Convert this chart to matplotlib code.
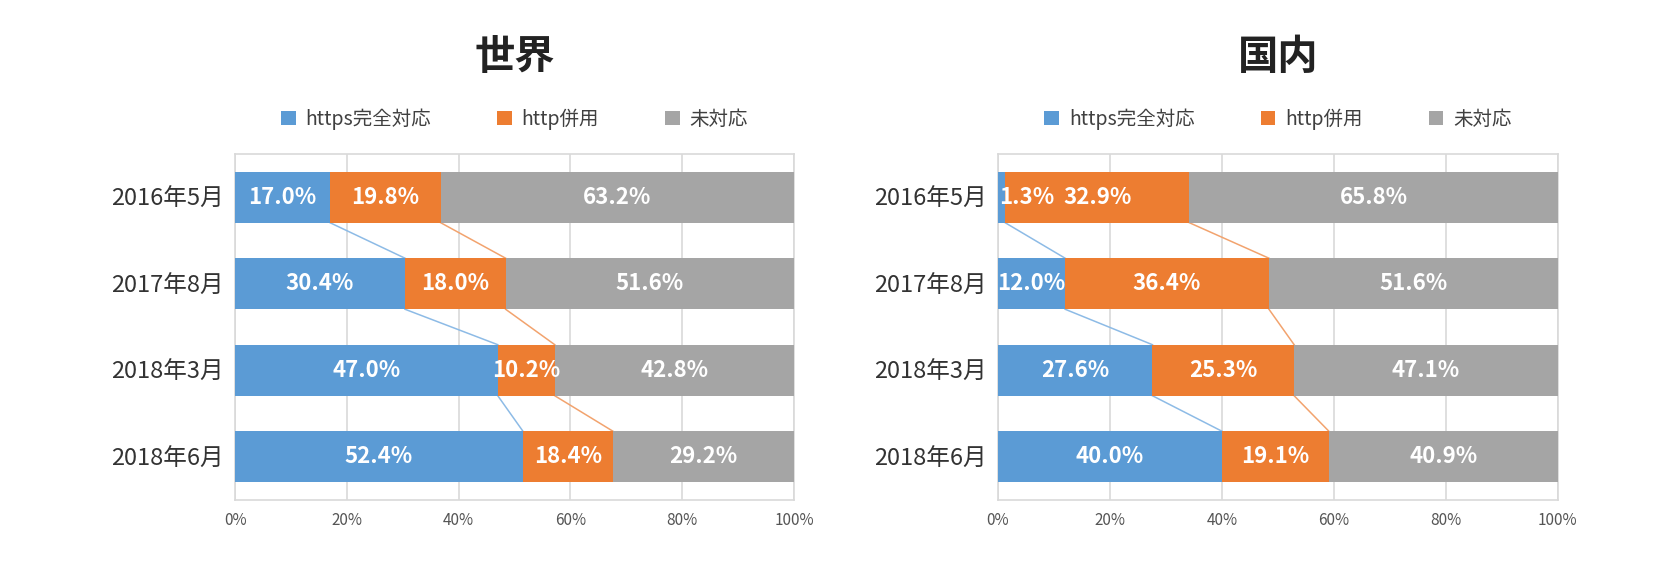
import matplotlib
matplotlib.use("Agg")
import matplotlib.pyplot as plt
from matplotlib.patches import Patch

plt.rcParams['font.family'] = ['Noto Sans CJK JP', 'DejaVu Sans']

# data
periods = ['2016年5月', '2017年8月', '2018年3月', '2018年6月']
series_names = ['https完全対応', 'http併用', '未対応']
# bar lengths as drawn in the source chart (last world row is drawn shorter than its label)
world_full = [17.0, 30.4, 47.0, 51.5]
world_mixed = [19.8, 18.0, 10.2, 16.1]
world_none = [63.2, 51.6, 42.8, 32.4]
# printed labels
world_full_lbl = [17.0, 30.4, 47.0, 52.4]
world_mixed_lbl = [19.8, 18.0, 10.2, 18.4]
world_none_lbl = [63.2, 51.6, 42.8, 29.2]
japan_full = [1.3, 12.0, 27.6, 40.0]
japan_mixed = [32.9, 36.4, 25.3, 19.1]
japan_none = [65.8, 51.6, 47.1, 40.9]
xticks = [0, 20, 40, 60, 80, 100]

colors = ['#5B9BD5', '#ED7D31', '#A5A5A5']
line_colors = ['#8DBBE6', '#F2A36E']
bar_h = 0.59

fig = plt.figure(figsize=(16.66, 5.64), dpi=100)
ax1 = fig.add_axes([0.1411, 0.1135, 0.3355, 0.6135])
ax2 = fig.add_axes([0.599, 0.1135, 0.3361, 0.6135])


def draw(ax, title, series, labels):
    y = list(range(len(periods)))
    left = [0] * len(periods)
    cums = []
    for vals, lbls, c in zip(series, labels, colors):
        ax.barh(y, vals, left=left, height=bar_h, color=c, zorder=3)
        for i, v in enumerate(vals):
            txt = '%.1f%%' % lbls[i]
            if v < 3:
                ax.text(left[i] + 0.2, i, txt, ha='left', va='center',
                        color='white', fontsize=16, fontweight='bold', zorder=5)
            else:
                ax.text(left[i] + v / 2, i, txt, ha='center', va='center',
                        color='white', fontsize=16, fontweight='bold', zorder=5)
        left = [l + v for l, v in zip(left, vals)]
        cums.append(list(left))

    # connector lines between bars
    for k in range(2):
        for i in range(len(periods) - 1):
            ax.plot([cums[k][i], cums[k][i + 1]], [i + bar_h / 2, i + 1 - bar_h / 2],
                    color=line_colors[k], lw=1.1, zorder=2)

    ax.set_xlim(0, 100)
    ax.set_ylim(len(periods) - 0.5, -0.5)
    ax.set_yticks(y)
    ax.set_yticklabels(periods, fontsize=17, color='#333333')
    ax.set_xticks(xticks)
    ax.set_xticklabels(['%d%%' % t for t in xticks], fontsize=11, color='#555555')
    ax.tick_params(length=0)
    ax.tick_params(axis='y', pad=8)
    ax.tick_params(axis='x', pad=9)
    ax.grid(axis='x', color='#D9D9D9', lw=1.2, zorder=0)
    for s in ax.spines.values():
        s.set_color('#D9D9D9')
        s.set_linewidth(1.2)

    ax.text(0.5, 1.28, title, transform=ax.transAxes, ha='center', va='center',
            fontsize=29, fontweight='bold', color='#222222')
    handles = [Patch(facecolor=c, label=n) for c, n in zip(colors, series_names)]
    ax.legend(handles=handles, loc='center', bbox_to_anchor=(0.5, 1.10), ncol=3,
              frameon=False, fontsize=14, handlelength=0.75, handleheight=0.75,
              handletextpad=0.5, columnspacing=3.4, labelcolor='#404040')


draw(ax1, '世界', [world_full, world_mixed, world_none],
     [world_full_lbl, world_mixed_lbl, world_none_lbl])
draw(ax2, '国内', [japan_full, japan_mixed, japan_none],
     [japan_full, japan_mixed, japan_none])

fig.savefig('out.png', dpi=100)
